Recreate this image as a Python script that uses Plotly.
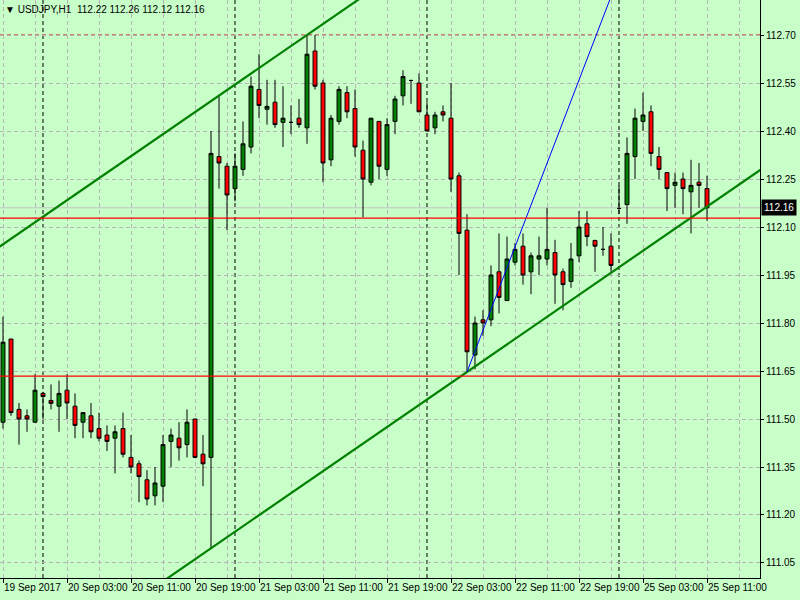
import pandas as pd
import plotly.graph_objects as go

# ---------------- data ----------------
title_text = "\u25BC USDJPY,H1\u00a0\u00a0112.22 112.26 112.12 112.16"

opens = [111.49, 111.75, 111.53, 111.51, 111.49, 111.58, 111.558, 111.54, 111.59, 111.54,
         111.49, 111.51, 111.47, 111.45, 111.44, 111.47, 111.38, 111.36, 111.31, 111.26,
         111.29, 111.43, 111.44, 111.42, 111.50, 111.39, 111.38, 112.32, 112.29, 112.22,
         112.28, 112.35, 112.53, 112.468, 112.49, 112.427, 112.427, 112.44, 112.41, 112.65,
         112.55, 112.31, 112.43, 112.52, 112.47, 112.34, 112.24, 112.43, 112.28, 112.43,
         112.51, 112.558, 112.55, 112.45, 112.41, 112.46, 112.44, 112.26, 112.09, 111.70,
         111.81, 111.81, 111.96, 111.87, 111.99, 112.04, 111.96, 112.00, 112.00, 112.02,
         111.96, 111.93, 112.01, 112.11, 112.058, 112.03, 112.04, 112.158, 112.17, 112.32,
         112.43, 112.46, 112.32, 112.27, 112.23, 112.25, 112.21, 112.24, 112.22]
highs = [111.82, 111.75, 111.55, 111.53, 111.64, 111.585, 111.608, 111.62, 111.64, 111.58,
         111.52, 111.55, 111.52, 111.48, 111.48, 111.52, 111.45, 111.37, 111.34, 111.35,
         111.45, 111.47, 111.49, 111.53, 111.50, 111.45, 112.40, 112.51, 112.30, 112.33,
         112.43, 112.57, 112.64, 112.56, 112.56, 112.54, 112.48, 112.50, 112.70, 112.70,
         112.56, 112.45, 112.54, 112.54, 112.53, 112.37, 112.44, 112.43, 112.44, 112.51,
         112.59, 112.558, 112.58, 112.49, 112.46, 112.48, 112.55, 112.27, 112.14, 111.82,
         111.84, 111.98, 112.08, 112.07, 112.05, 112.08, 112.02, 112.07, 112.16, 112.06,
         111.97, 112.05, 112.15, 112.15, 112.06, 112.10, 112.08, 112.23, 112.38, 112.47,
         112.52, 112.48, 112.35, 112.27, 112.27, 112.27, 112.31, 112.30, 112.26]
lows = [111.47, 111.51, 111.42, 111.46, 111.49, 111.50, 111.53, 111.46, 111.50, 111.44,
        111.44, 111.44, 111.43, 111.40, 111.33, 111.38, 111.33, 111.24, 111.23, 111.23,
        111.24, 111.35, 111.37, 111.38, 111.38, 111.29, 111.096, 112.22, 112.09, 112.18,
        112.26, 112.33, 112.44, 112.42, 112.41, 112.35, 112.39, 112.41, 112.36, 112.53,
        112.24, 112.29, 112.42, 112.44, 112.32, 112.13, 112.23, 112.25, 112.26, 112.39,
        112.48, 112.485, 112.46, 112.40, 112.39, 112.43, 112.21, 111.95, 111.647, 111.655,
        111.76, 111.79, 111.83, 111.87, 111.98, 111.92, 111.89, 111.95, 111.98, 111.86,
        111.84, 111.91, 111.99, 112.04, 111.96, 112.01, 111.96, 112.14, 112.11, 112.25,
        112.40, 112.29, 112.25, 112.15, 112.16, 112.14, 112.08, 112.16, 112.12]
closes = [111.74, 111.52, 111.50, 111.50, 111.59, 111.57, 111.549, 111.58, 111.55, 111.48,
          111.52, 111.46, 111.44, 111.43, 111.46, 111.39, 111.35, 111.32, 111.25, 111.30,
          111.42, 111.45, 111.41, 111.49, 111.38, 111.36, 112.33, 112.30, 112.20, 112.29,
          112.36, 112.54, 112.48, 112.477, 112.42, 112.44, 112.427, 112.42, 112.64, 112.54,
          112.30, 112.44, 112.53, 112.46, 112.35, 112.25, 112.44, 112.29, 112.42, 112.50,
          112.57, 112.558, 112.46, 112.40, 112.45, 112.45, 112.25, 112.08, 111.71, 111.80,
          111.80, 111.95, 111.88, 112.00, 112.03, 111.95, 112.01, 112.01, 112.03, 111.95,
          111.92, 112.00, 112.10, 112.07, 112.04, 112.03, 111.98, 112.158, 112.33, 112.44,
          112.45, 112.33, 112.28, 112.22, 112.24, 112.22, 112.23, 112.23, 112.16]

price_ticks = [111.05, 111.20, 111.35, 111.50, 111.65, 111.80, 111.95,
               112.10, 112.25, 112.40, 112.55, 112.70]
red_levels = [112.128, 111.634]
dashed_level = 112.70
bid_price = 112.16
# channel: lower line through two lows, upper line parallel through a high
channel_low_bars = [26, 58]
channel_high_bar = 38
# blue trend line anchors (bar index, price)
blue_bars = [58, 64]
blue_prices = [111.647, 112.038]

# ---------------- time axis ----------------
times = (list(pd.date_range("2017-09-19 19:00", periods=77, freq="h")) +
         list(pd.date_range("2017-09-25 00:00", periods=12, freq="h")))
idx = list(range(len(times)))
label_idx = [i for i in idx if i % 8 == 0]
label_text = [("19 Sep 2017" if i == 0 else times[i].strftime("%d %b %H:%M")) for i in label_idx]
separators = [i for i in idx if times[i].hour == 0]

BG = "#c8ffc8"
FONT = "Liberation Sans"
xr = [-0.375, 94.625]
yr = [111.0031, 112.8094]

fig = go.Figure()
fig.add_trace(go.Candlestick(
    x=idx, open=opens, high=highs, low=lows, close=closes,
    increasing=dict(line=dict(color="black", width=1), fillcolor="#008000"),
    decreasing=dict(line=dict(color="black", width=1), fillcolor="#ff0000"),
    whiskerwidth=0, hoverinfo="skip", showlegend=False))

# channel lines
x0, x1 = channel_low_bars
slope = (lows[x1] - lows[x0]) / (x1 - x0)
xs = [xr[0] - 1, xr[1] + 1]
lower = [lows[x0] + slope * (x - x0) for x in xs]
upper = [highs[channel_high_bar] + slope * (x - channel_high_bar) for x in xs]
for ys in (lower, upper):
    fig.add_trace(go.Scatter(x=xs, y=ys, mode="lines", line=dict(color="#008000", width=2.2),
                             hoverinfo="skip", showlegend=False))
bslope = (blue_prices[1] - blue_prices[0]) / (blue_bars[1] - blue_bars[0])
bx = [blue_bars[0], blue_bars[0] + 25]
by = [blue_prices[0] + bslope * (x - blue_bars[0]) for x in bx]
fig.add_trace(go.Scatter(x=bx, y=by, mode="lines", line=dict(color="#0000ff", width=1),
                         hoverinfo="skip", showlegend=False))

shapes = []
for s in separators:
    shapes.append(dict(type="line", xref="x", yref="paper", x0=s, x1=s, y0=0, y1=1,
                       line=dict(color="black", width=1, dash="4px,3px"), layer="below"))
shapes.append(dict(type="line", xref="paper", yref="y", x0=0, x1=1, y0=bid_price, y1=bid_price,
                   line=dict(color="#c0c0c0", width=1), layer="below"))
for lv in red_levels:
    shapes.append(dict(type="line", xref="paper", yref="y", x0=0, x1=1, y0=lv, y1=lv,
                       line=dict(color="#ff0000", width=1.3), layer="above"))
shapes.append(dict(type="line", xref="paper", yref="y", x0=0, x1=1, y0=dashed_level, y1=dashed_level,
                   line=dict(color="#d00000", width=1, dash="4px,3px"), layer="below"))

fig.update_layout(
    width=800, height=600,
    margin=dict(l=0, r=40, t=0, b=22, autoexpand=False),
    paper_bgcolor=BG, plot_bgcolor=BG,
    font=dict(family=FONT, size=10, color="black"),
    shapes=shapes,
    boxgap=0.3,
    xaxis=dict(range=xr, rangeslider=dict(visible=False), tickmode="array",
               tickvals=label_idx, ticktext=label_text, ticks="outside", ticklen=4,
               tickcolor="black", ticklabelposition="outside right", tickangle=0,
               automargin=False,
               showline=True, linecolor="black", linewidth=1,
               showgrid=True, gridcolor="#b4b4b4", griddash="4px,3px", gridwidth=1,
               minor=dict(tick0=0, dtick=4, showgrid=True, gridcolor="#b4b4b4",
                          griddash="4px,3px", ticks=""),
               zeroline=False, fixedrange=True),
    yaxis=dict(range=yr, side="right", tickmode="array", tickvals=price_ticks,
               ticktext=[f"{v:.2f}" for v in price_ticks], ticks="outside", ticklen=3,
               tickcolor="black", showline=True, linecolor="black", linewidth=1,
               automargin=False,
               showgrid=True, gridcolor="#b4b4b4", griddash="4px,3px", gridwidth=1,
               zeroline=False, fixedrange=True),
    annotations=[
        dict(xref="paper", yref="paper", x=0, y=1, xanchor="left", yanchor="top",
             xshift=3, yshift=-2, text=title_text, showarrow=False,
             font=dict(family=FONT, size=10, color="black")),
        dict(xref="paper", yref="y", x=1, y=bid_price, xanchor="left", yanchor="middle",
             xshift=1, text="112.16", showarrow=False, bgcolor="black", borderpad=2,
             font=dict(family=FONT, size=10, color="white")),
    ],
)

fig.write_html("out.html", config={"displayModeBar": False},
               post_script="document.body.style.margin='0';")
